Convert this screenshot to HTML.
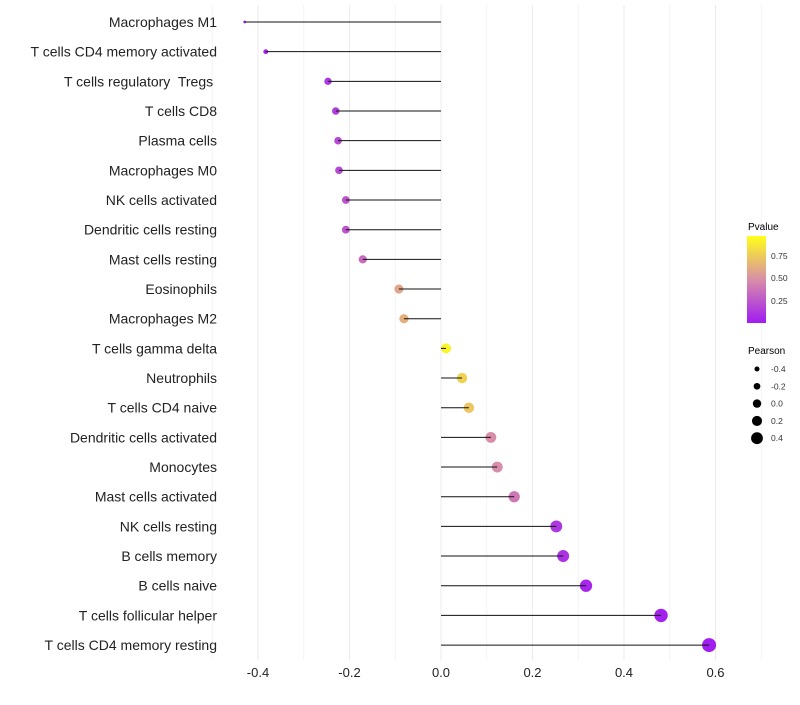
<!DOCTYPE html>
<html><head><meta charset="utf-8"><style>
body{margin:0;background:#fff;font-family:"Liberation Sans",sans-serif}
text{white-space:pre}
</style></head><body>
<svg id="chart" width="800" height="700" xmlns="http://www.w3.org/2000/svg" font-family="Liberation Sans, sans-serif">
<defs><linearGradient id="pg" x1="0" y1="1" x2="0" y2="0">
<stop offset="0" stop-color="#A01CF2"/><stop offset="0.5" stop-color="#D88EA8"/><stop offset="1" stop-color="#FFFF1A"/></linearGradient></defs>
<g id="grid"></g><g id="dots"></g><g id="marks"></g><g id="labels"></g>
<g>
<text x="748" y="230" font-size="10">Pvalue</text>
<rect x="747" y="236" width="19" height="87" fill="url(#pg)"/>
<text x="771" y="259" font-size="8.5" fill="#333">0.75</text>
<text x="771" y="281" font-size="8.5" fill="#333">0.50</text>
<text x="771" y="304" font-size="8.5" fill="#333">0.25</text>
</g>
<g id="sl">
<text x="748" y="354" font-size="10">Pearson</text>
</g>
</svg>
<script>
const categories=["Macrophages M1","T cells CD4 memory activated","T cells regulatory  Tregs ","T cells CD8","Plasma cells","Macrophages M0","NK cells activated","Dendritic cells resting","Mast cells resting","Eosinophils","Macrophages M2","T cells gamma delta","Neutrophils","T cells CD4 naive","Dendritic cells activated","Monocytes","Mast cells activated","NK cells resting","B cells memory","B cells naive","T cells follicular helper","T cells CD4 memory resting"];
const pearson=[-0.429,-0.383,-0.247,-0.230,-0.225,-0.223,-0.208,-0.208,-0.171,-0.092,-0.081,0.011,0.046,0.061,0.109,0.123,0.160,0.252,0.267,0.317,0.481,0.586];
const pvalue=[0.02,0.05,0.12,0.15,0.2,0.2,0.25,0.25,0.35,0.6,0.65,0.95,0.8,0.75,0.5,0.5,0.4,0.12,0.1,0.05,0.02,0.01];
const xTicks=[-0.4,-0.2,0.0,0.2,0.4,0.6];
const sizeTicks=[-0.4,-0.2,0.0,0.2,0.4];
const NS="http://www.w3.org/2000/svg";
const x=v=>441+v*457.5;
const y=i=>22+i*29.67;
const r=v=>1.2+5.8*Math.sqrt(Math.max(0,(v+0.43)/1.016));
const rl=v=>4.6+v*5;
function lerp(a,b,t){return a.map((c,k)=>Math.round(c+(b[k]-c)*t));}
function col(p){const A=[160,28,242],B=[216,142,168],C=[255,255,26];const c=p<0.5?lerp(A,B,p/0.5):lerp(B,C,(p-0.5)/0.5);return `rgb(${c})`;}
function mk(t,a,p){const e=document.createElementNS(NS,t);for(const k in a)e.setAttribute(k,a[k]);p.appendChild(e);return e;}
const G=document.getElementById('grid'),D=document.getElementById('dots'),M=document.getElementById('marks'),L=document.getElementById('labels');
for(let v=-0.5;v<=0.71;v+=0.1){const g=mk('line',{x1:x(v),x2:x(v),y1:5,y2:660,stroke:Math.abs(Math.round(v*10))%2==0?'#ebebeb':'#f4f4f4','stroke-width':1},G);

}
xTicks.forEach(v=>{const t=mk('text',{x:x(v),y:677,'font-size':13,'text-anchor':'middle',fill:'#222'},L);t.textContent=v.toFixed(1);

});
categories.forEach((c,i)=>{
const t=mk('text',{x:217,y:y(i)+5,'font-size':14,'text-anchor':'end',fill:'#222'},L);t.textContent=c;


const d=mk('circle',{cx:x(pearson[i]),cy:y(i),r:r(pearson[i]),fill:col(pvalue[i])},D);


const l=mk('line',{x1:x(0),x2:x(pearson[i]),y1:y(i),y2:y(i),stroke:'#111','stroke-width':1},M);


});
const S=document.getElementById('sl');
sizeTicks.forEach((v,i)=>{const cy=369+i*17.3;
const c=mk('circle',{cx:757,cy:cy,r:rl(v)*0.85+0.3,fill:'#000'},S);


const t=mk('text',{x:771,y:cy+3,'font-size':8.5,fill:'#333'},S);t.textContent=v.toFixed(1);

});
</script>
</body></html>
